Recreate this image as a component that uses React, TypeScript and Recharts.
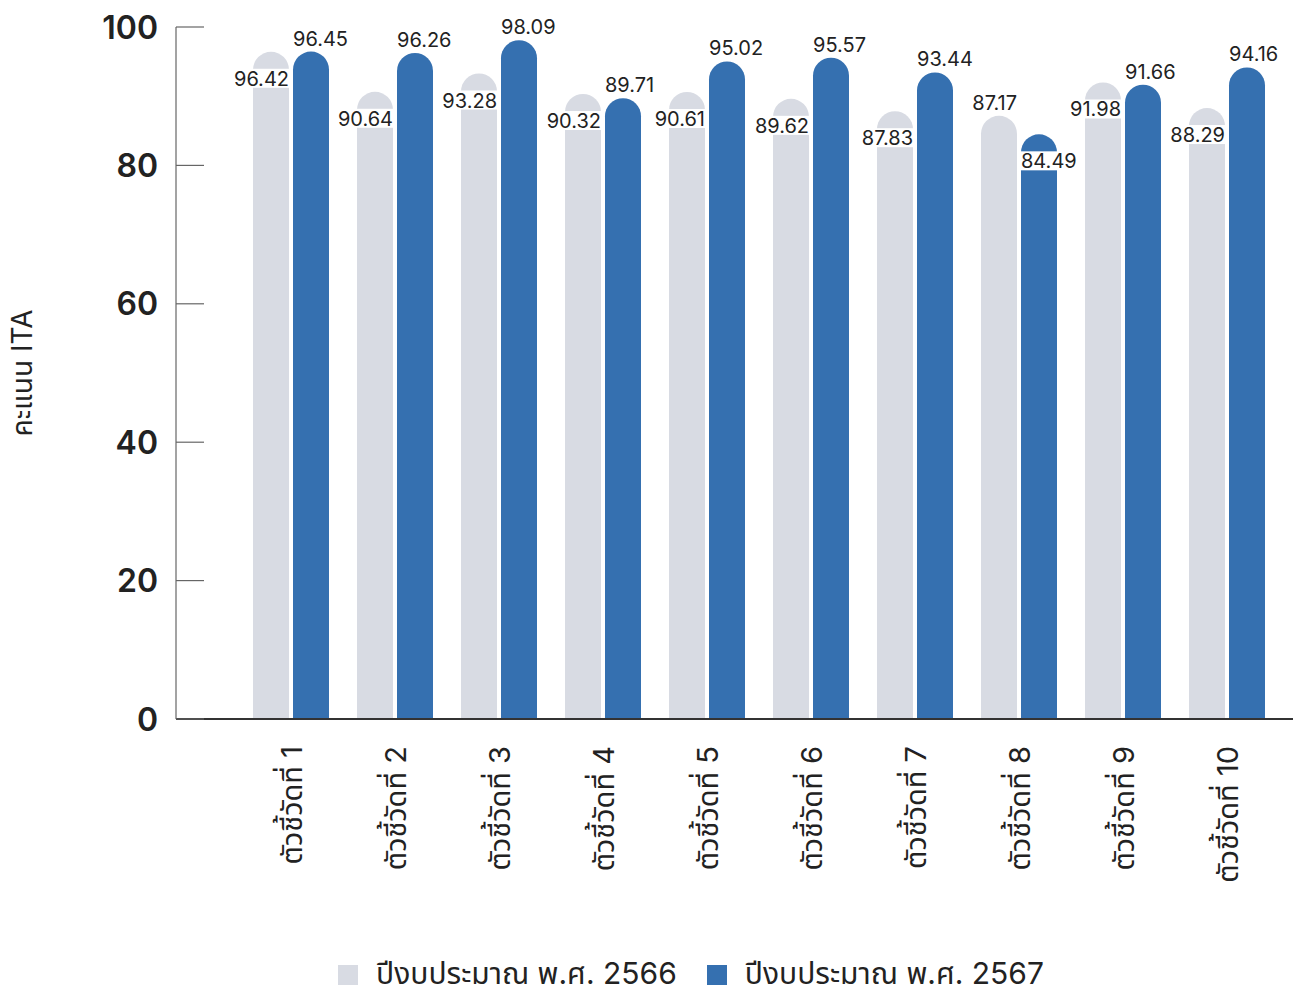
import { Bar, BarChart, LabelList, Legend, XAxis, YAxis } from "recharts";

const categories = [
  "ตัวชี้วัดที่ 1",
  "ตัวชี้วัดที่ 2",
  "ตัวชี้วัดที่ 3",
  "ตัวชี้วัดที่ 4",
  "ตัวชี้วัดที่ 5",
  "ตัวชี้วัดที่ 6",
  "ตัวชี้วัดที่ 7",
  "ตัวชี้วัดที่ 8",
  "ตัวชี้วัดที่ 9",
  "ตัวชี้วัดที่ 10",
];
const score2566 = [96.42, 90.64, 93.28, 90.32, 90.61, 89.62, 87.83, 87.17, 91.98, 88.29];
const score2567 = [96.45, 96.26, 98.09, 89.71, 95.02, 95.57, 93.44, 84.49, 91.66, 94.16];
const yTicks = [0, 20, 40, 60, 80, 100];

const name2566 = "ปีงบประมาณ พ.ศ. 2566";
const name2567 = "ปีงบประมาณ พ.ศ. 2567";

const GREY = "#d8dbe3";
const BLUE = "#3570b0";
const TEXT = "#222";
const FONT = "Inter, 'Noto Sans Thai', 'Noto Sans', sans-serif";

const data = categories.map((name, i) => ({
  name,
  y2566: score2566[i],
  y2567: score2567[i],
}));

// when the newer bar drops clearly below the older one, the labels trade places
const swapped = (i: number) => score2567[i] < score2566[i] - 1;

function ValueLabel(props: any, series: "old" | "new") {
  const { x, y, width, value, index } = props;
  const above = series === "old" ? swapped(index) : !swapped(index);
  const cy = above ? y - 13 : y + 27;
  const anchorX = series === "old" ? x + width : x;
  const anchor = series === "old" ? "end" : "start";
  const rectX = series === "old" ? anchorX - 57 : anchorX - 1;
  return (
    <g>
      {!above && <rect x={rectX} y={cy - 10} width={58} height={19} fill="#fff" />}
      <text
        x={anchorX}
        y={cy}
        textAnchor={anchor}
        dominantBaseline="central"
        fontSize={20}
        fill={TEXT}
        fontFamily={FONT}
      >
        {Number(value).toFixed(2)}
      </text>
    </g>
  );
}

function YTick({ x, y, payload }: any) {
  return (
    <g>
      <line x1={x} x2={x + 28} y1={y} y2={y} stroke="#666" strokeWidth={1.2} />
      <text
        x={x - 18}
        y={y}
        textAnchor="end"
        dominantBaseline="central"
        fontSize={32}
        fontWeight={600}
        fill={TEXT}
        fontFamily={FONT}
      >
        {payload.value}
      </text>
    </g>
  );
}

function XTick({ x, y, payload }: any) {
  return (
    <text
      transform={`translate(${x},${y + 27}) rotate(-90)`}
      textAnchor="end"
      dominantBaseline="central"
      fontSize={29}
      fill={TEXT}
      fontFamily={FONT}
    >
      {payload.value}
    </text>
  );
}

function YTitle({ viewBox }: any) {
  const cx = viewBox.x + 22;
  const cy = viewBox.y + viewBox.height / 2;
  return (
    <text
      transform={`translate(${cx},${cy}) rotate(-90)`}
      textAnchor="middle"
      dominantBaseline="central"
      fontSize={28}
      fill={TEXT}
      fontFamily={FONT}
    >
      คะแนน ITA
    </text>
  );
}

function LegendBox() {
  const item = (color: string, label: string) => (
    <div style={{ display: "flex", alignItems: "center", marginRight: 30 }}>
      <div style={{ width: 20, height: 20, background: color, marginRight: 18 }} />
      <span style={{ fontSize: 30, color: TEXT, fontFamily: FONT }}>{label}</span>
    </div>
  );
  return (
    <div
      style={{
        height: 50,
        boxSizing: "border-box",
        paddingTop: 22,
        display: "flex",
        alignItems: "center",
      }}
    >
      {item(GREY, name2566)}
      {item(BLUE, name2567)}
    </div>
  );
}

export default function App() {
  return (
    <div style={{ position: "absolute", left: 0, top: 0, background: "#fff" }}>
      <BarChart
        width={1293}
        height={989}
        data={data}
        margin={{ top: 27, right: 0, left: 0, bottom: 0 }}
        barSize={36}
        barGap={4}
      >
        <XAxis
          dataKey="name"
          height={220}
          padding={{ left: 63, right: 14 }}
          axisLine={{ stroke: "#333", strokeWidth: 2 }}
          tickLine={false}
          tickSize={0}
          tickMargin={0}
          interval={0}
          tick={<XTick />}
        />
        <YAxis
          width={176}
          domain={[0, 100]}
          ticks={yTicks}
          axisLine={{ stroke: "#666", strokeWidth: 1.2 }}
          tickLine={false}
          tickSize={0}
          tickMargin={0}
          tick={<YTick />}
          label={{ content: <YTitle /> }}
        />
        <Legend
          verticalAlign="bottom"
          content={<LegendBox />}
          wrapperStyle={{ left: 338, width: 760 }}
        />
        <Bar dataKey="y2566" name={name2566} fill={GREY} radius={[18, 18, 0, 0]} isAnimationActive={false}>
          <LabelList dataKey="y2566" content={(p: any) => ValueLabel(p, "old")} />
        </Bar>
        <Bar dataKey="y2567" name={name2567} fill={BLUE} radius={[18, 18, 0, 0]} isAnimationActive={false}>
          <LabelList dataKey="y2567" content={(p: any) => ValueLabel(p, "new")} />
        </Bar>
      </BarChart>
    </div>
  );
}
